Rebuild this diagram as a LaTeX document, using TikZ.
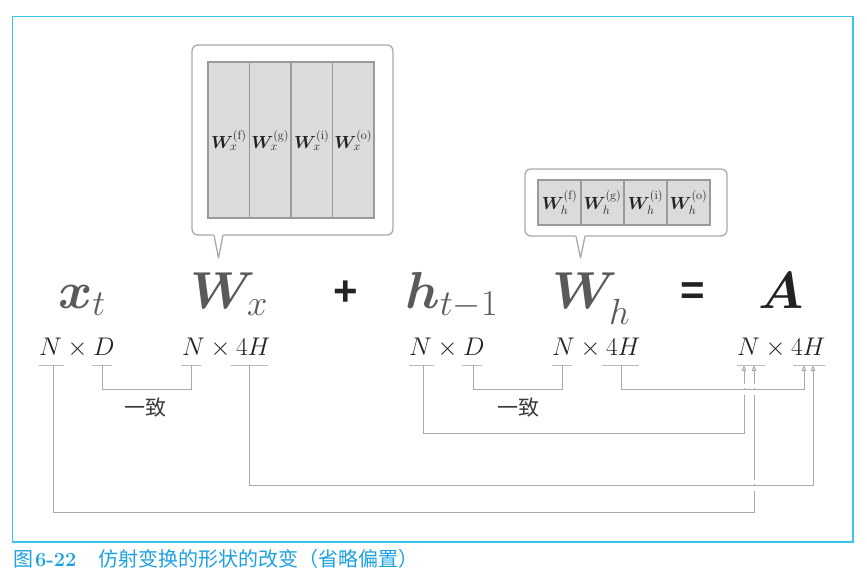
\RequirePackage{fix-cm}
\documentclass[tikz,border=0pt]{standalone}
\usepackage{amsmath}
\usepackage{bm}
\usepackage{fontspec}
\newfontfamily\cjk{Noto Sans CJK SC}
\newfontfamily\opfont{Liberation Sans}
\usetikzlibrary{arrows.meta}
\definecolor{frameblue}{HTML}{3CC3F0}
\definecolor{capblue}{HTML}{1BA1E2}
\definecolor{lgray}{HTML}{AAAAAA}
\definecolor{tgray}{HTML}{BBBBBB}
\definecolor{symgray}{HTML}{5A5A5A}
\definecolor{cellfill}{HTML}{DADBDC}
\definecolor{celldraw}{HTML}{9A9A9A}
\definecolor{inkdark}{HTML}{222222}
\definecolor{cntext}{HTML}{3A3A3A}
\begin{document}
\begin{tikzpicture}[x=1pt,y=-1pt,
  sym/.style={inner sep=0, anchor=base west, font=\fontsize{52}{60}\selectfont, text=symgray},
  opsym/.style={inner sep=0, anchor=center, font=\opfont\bfseries\fontsize{42}{50}\selectfont, text=inkdark},
  dim/.style={inner sep=0, anchor=base west, font=\fontsize{25.5}{30}\selectfont, text=inkdark},
  bar/.style={tgray, line width=1pt},
  link/.style={lgray, line width=1pt},
  arr/.style={link, -{Triangle[open, length=6pt, width=4.5pt]}},
  callout/.style={draw=lgray, fill=white, line width=1.3pt, rounded corners=6pt, inner sep=0},
  cell/.style={draw=celldraw, fill=cellfill, line width=1.2pt, inner sep=0},
  lbl/.style={inner sep=0, font=\fontsize{17.5}{20}\selectfont, text=inkdark},
  cn/.style={inner sep=0, font=\cjk\fontsize{21}{24}\selectfont, text=cntext}
]
\useasboundingbox (0,0) rectangle (867,587);
\draw[frameblue, line width=1.5pt] (12.5,16.5) rectangle (853,542);

% callout 1
\node[callout, minimum width=201pt, minimum height=190pt] (box1) at (292.5,140) {};
\fill[white] (213.5,233.6) -- (223.5,233.6) -- (218.5,257) -- cycle;
\draw[lgray, line width=1.3pt, line join=round] (214,235) -- (218.5,258) -- (223,235);
\foreach \g [count=\k from 0] in {f,g,i,o}{
  \node[cell, minimum width=41.5pt, minimum height=156pt] (cx\g) at (228.75+41.5*\k,140) {};
  \node[lbl] (lx\g) at (cx\g) {$\bm{W}_x^{(\mathrm{\g})}$};
}
% callout 2
\node[callout, minimum width=202pt, minimum height=67pt] (box2) at (626,202.5) {};
\fill[white] (575.5,234.6) -- (585.5,234.6) -- (580.5,257) -- cycle;
\draw[lgray, line width=1.3pt, line join=round] (576,236) -- (580.5,258) -- (585,236);
\foreach \g [count=\k from 0] in {f,g,i,o}{
  \node[cell, minimum width=43pt, minimum height=45pt] (ch\g) at (559.5+43*\k,202.5) {};
  \node[lbl] (lh\g) at (ch\g) {$\bm{W}_h^{(\mathrm{\g})}$};
}

% equation
\node[sym] (xt) at (58,308) {$\bm{x}_t$};
\node[sym] (Wx) at (190,308) {$\bm{W}_x$};
\node[opsym] (plus) at (346,293) {+};
\node[sym] (ht) at (405,308) {$\bm{h}_{t-1}$};
\node[sym] (Wh) at (552,308) {$\bm{W}_{\lower9pt\hbox{$\scriptstyle h$}}$};
\node[opsym] (eq) at (693,294) {=};
\node[sym, text=inkdark] (A) at (758,308) {$\bm{A}$};

% dimensions
\node[dim] (dx) at (39,355) {$N\times D$};
\node[dim] (dWx) at (182,355) {$N\times 4H$};
\node[dim] (dh) at (409,355) {$N\times D$};
\node[dim] (dWh) at (552,355) {$N\times 4H$};
\node[dim] (dA) at (737,355) {$N\times 4H$};

% ticks
\coordinate (xN) at (53,365);
\coordinate (xD) at (102,365);
\coordinate (WxN) at (191,365);
\coordinate (WxH) at (249,365);
\coordinate (hN) at (423,365);
\coordinate (hD) at (473,365);
\coordinate (WhN) at (562,365);
\coordinate (WhH) at (621,365);
\coordinate (AN1) at (744,365);
\coordinate (AN2) at (754,365);
\coordinate (AH1) at (804,365);
\coordinate (AH2) at (813,365);
\draw[bar] (39,365) -- (64,365);
\draw[bar] (92,365) -- (112,365);
\draw[bar] (181,365) -- (201,365);
\draw[bar] (231,365) -- (268,365);
\draw[bar] (409,365) -- (434,365);
\draw[bar] (462,365) -- (482,365);
\draw[bar] (552,365) -- (572,365);
\draw[bar] (602,365) -- (639,365);
\draw[bar] (737,365) -- (765,365);
\draw[bar] (793,365) -- (825,365);

% links
\draw[link] (xD) -- ++(0,24) -| (WxN);
\draw[link] (hD) -- ++(0,24) -| (WhN);
\draw[arr] (hN) -- ++(0,68) -| (AN1);
\draw[arr] (xN) -- ++(0,147) -| (AN2);
\draw[arr] (WxH) -- ++(0,120) -| (AH2);
\draw[arr] (WhH) -- ++(0,24) -| (AH1);
% gaps at crossings
\foreach \cx/\cy in {744/389, 754/389, 754/485}{
  \fill[white] (\cx-2.5,\cy-5.5) rectangle (\cx+2.5,\cy-0.8);
  \fill[white] (\cx-2.5,\cy+0.8) rectangle (\cx+2.5,\cy+5.5);
}

\node[cn] (agree1) at (145,408) {一致};
\node[cn] (agree2) at (518,408) {一致};

% caption
\node[inner sep=0, anchor=base west, text=capblue, font=\fontsize{20}{24}\selectfont] (cap) at (13,566)
  {{\cjk 图}\hspace{2pt}{\bfseries 6-22}\hspace{22pt}{\cjk 仿射变换的形状的改变（省略偏置）}};
\end{tikzpicture}
\end{document}
